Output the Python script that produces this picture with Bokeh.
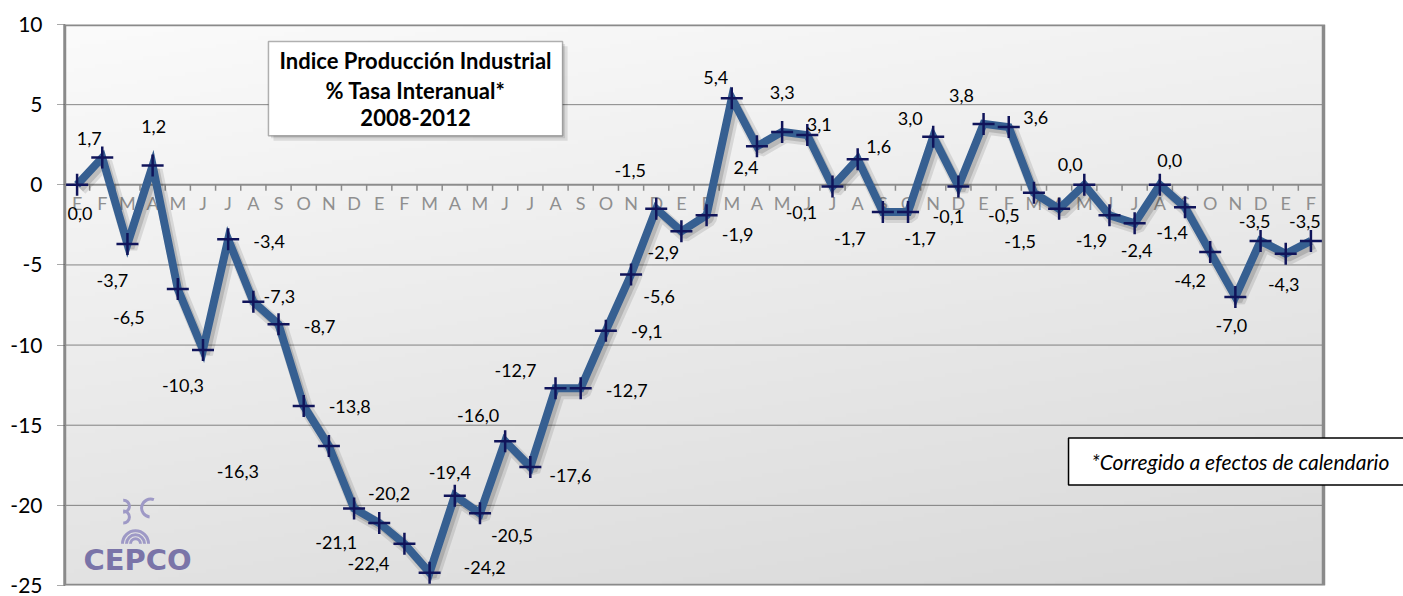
import numpy as np
from bokeh.plotting import figure
from bokeh.models import Range1d, FixedTicker, BoxAnnotation, Label, LabelSet, ColumnDataSource
from bokeh.core.properties import value
from bokeh.embed import file_html
from bokeh.resources import INLINE

# ---------------- data ----------------
months = ["E", "F", "M", "A", "M", "J", "J", "A", "S", "O", "N", "D"] * 4 + ["E", "F"]
values = [0.0, 1.7, -3.7, 1.2, -6.5, -10.3, -3.4, -7.3, -8.7, -13.8, -16.3, -20.2,
          -21.1, -22.4, -24.2, -19.4, -20.5, -16.0, -17.6, -12.7, -12.7, -9.1, -5.6, -1.5,
          -2.9, -1.9, 5.4, 2.4, 3.3, 3.1, -0.1, 1.6, -1.7, -1.7, 3.0, -0.1,
          3.8, 3.6, -0.5, -1.5, 0.0, -1.9, -2.4, 0.0, -1.4, -4.2, -7.0, -3.5,
          -4.3, -3.5]
y_ticks = [10, 5, 0, -5, -10, -15, -20, -25]
title_lines = ["Indice Producción Industrial", "% Tasa Interanual*", "2008-2012"]
footnote = "*Corregido a efectos de calendario"

# label placement (pixels, +dy = down)
label_dx = [3, -13, -15, 1, -49, -20, 41, 26, 41, 46, -91, 35,
            -43, -36, 55, -5, 32, -27, 40, -40, 46, 41, 28, -26,
            -18, 31, -16, -11, 0, 12, -31, 21, -33, 12, -23, -10,
            -22, 27, -30, -39, -14, -18, 2, 10, -13, -20, -4, -6,
            -2, -6]
label_dy = [29, -19, 36, -39, 29, 36, 2, -5, 2, 1, 25, -15,
            20, 20, -5, -23, 22, -26, 9, -18, 2, 1, 22, -38,
            21, 19, -21, 21, -39, -11, 26, -13, 26, 26, -18, 30,
            -28, -10, 23, 33, -20, 25, 27, -24, 25, 28, 29, -19,
            31, -19]

n = len(values)
x = np.arange(n)
labels = [f"{v:.1f}".replace(".", ",") for v in values]

W, H = 1403, 596
BL, BT, BB = 64, 24, 11
px_per_cat = 25.18
x_end = -0.5 + (W - BL) / px_per_cat

p = figure(width=W, height=H, output_backend="svg", toolbar_location=None,
           x_range=Range1d(-0.5, x_end), y_range=Range1d(-25, 10),
           x_axis_type=None, min_border_left=BL, min_border_right=0,
           min_border_top=BT, min_border_bottom=BB)
p.background_fill_color = "white"
p.border_fill_color = "white"
p.outline_line_color = None

# gradient background for the plot area
nx, ny = 240, 140
tx = np.linspace(0, 1, nx)[None, :]
ty = np.linspace(0, 1, ny)[:, None]  # row 0 = bottom
t = 0.72 * (1 - ty) + 0.28 * tx
g = np.clip(251 - 34 * t, 0, 255).astype(np.uint8)
img = np.empty((ny, nx), dtype=np.uint32)
view = img.view(dtype=np.uint8).reshape((ny, nx, 4))
view[..., 0] = g
view[..., 1] = g
view[..., 2] = g
view[..., 3] = 255
p.image_rgba(image=[img], x=-0.5, y=-25, dw=n, dh=35, level="image")

# y axis
p.yaxis.ticker = FixedTicker(ticks=y_ticks)
p.yaxis.major_label_overrides = {t_: str(t_) for t_ in y_ticks}
p.yaxis.major_label_text_font = "Lato"
p.yaxis.major_label_text_font_size = "21px"
p.yaxis.major_label_text_color = "#000000"
p.yaxis.major_label_standoff = 15
p.yaxis.axis_line_color = "#8a8a8a"
p.yaxis.axis_line_width = 2.5
p.yaxis.major_tick_in = 0
p.yaxis.major_tick_out = 7
p.yaxis.major_tick_line_color = "#555555"
p.yaxis.major_tick_line_dash = "1 1"
p.yaxis.minor_tick_line_color = None
p.grid.visible = False

# horizontal dotted gridlines limited to the plot area
grid_levels = [t_ for t_ in y_ticks if t_ not in (0, 10, -25)]
p.segment(x0=np.full(len(grid_levels), -0.5), x1=np.full(len(grid_levels), n - 0.5),
          y0=grid_levels, y1=grid_levels, line_color="#1a1a1a", line_dash="1 1", line_width=1)

# plot-area border
p.quad(left=[-0.5], right=[n - 0.5], top=[10], bottom=[-25], fill_color=None,
       line_color="#8a8a8a", line_width=3.5)

# category axis at y = 0
bounds = np.arange(n + 1) - 0.5
p.segment(x0=[bounds[0]], x1=[bounds[-1]], y0=[0], y1=[0], line_color="#8c8c8c", line_width=2)
p.segment(x0=bounds, x1=bounds, y0=np.zeros(len(bounds)), y1=np.full(len(bounds), -0.37),
          line_color="#8c8c8c", line_width=1.5)
p.text(x=x, y=np.zeros(n), text=months, y_offset=18, text_font=value("Lato"),
       text_font_size="18px", text_color="#8f8f8f", text_align="center", text_baseline="middle")

# logo (CEPCO)
logo_c = "#9e99c6"
p.arc(x=[2.32] * 3, y=[-22.40] * 3, radius=[13, 9, 5], radius_units="screen",
      start_angle=0, end_angle=np.pi, line_color=logo_c, line_width=3)
p.arc(x=[1.84, 1.84, 2.92], y=[-20.05, -20.73, -20.17], radius=[6, 6, 9], radius_units="screen",
      start_angle=[-1.6, -1.6, 1.2], end_angle=[1.6, 1.6, 4.6], line_color=logo_c, line_width=3)
p.text(x=[2.40], y=[-23.40], text=["CEPCO"], text_font=value("DejaVu Sans"),
       text_font_style="bold", text_font_size="29px", text_color="#7a74a8",
       text_align="center", text_baseline="middle")

# line with shadow
vals = np.array(values)
p.line(x + 0.14, vals - 0.28, line_color="black", line_alpha=0.10, line_width=13)
p.line(x + 0.12, vals - 0.25, line_color="black", line_alpha=0.14, line_width=8)
p.line(x, values, line_color="#365F91", line_width=8, line_join="miter")
p.scatter(x, values, marker="cross", size=22, line_color="#10145a", line_width=2.5)

# data labels
src = ColumnDataSource(dict(x=x, y=values, text=labels, dx=label_dx,
                            dy=[-d for d in label_dy]))
p.add_layout(LabelSet(x="x", y="y", text="text", x_offset="dx", y_offset="dy", source=src,
                      text_font=value("Lato"), text_font_size=value("18px"),
                      text_color=value("#000000"),
                      text_align="center", text_baseline="middle", level="overlay"))

# title box
p.add_layout(BoxAnnotation(left=7.80, right=19.48, top=8.64, bottom=2.75,
                           fill_color="black", fill_alpha=0.10, line_color=None))
p.add_layout(BoxAnnotation(left=7.70, right=19.38, top=8.79, bottom=2.90,
                           fill_color="black", fill_alpha=0.10, line_color=None))
p.add_layout(BoxAnnotation(left=7.60, right=19.28, top=8.947, bottom=3.062,
                           fill_color="white", fill_alpha=1.0, line_color="#000000", line_width=1.5))
for ty_, txt in zip([7.77, 5.91, 4.18], title_lines):
    p.add_layout(Label(x=13.44, y=ty_, text=txt, text_font="Lato", text_font_style="bold",
                       text_font_size="22px", text_align="center", text_baseline="middle",
                       text_color="#000000"))

# footnote box
p.add_layout(Label(x=46.2, y=-17.26, text=footnote, text_font="Lato", text_font_style="italic",
                   text_font_size="21px", text_align="center", text_baseline="middle",
                   text_color="#000000", background_fill_color="white",
                   border_line_color="#000000", border_line_width=1.5,
                   padding=dict(left=23, right=23, top=11, bottom=11)))

open("out.html", "w").write(file_html(p, INLINE))
